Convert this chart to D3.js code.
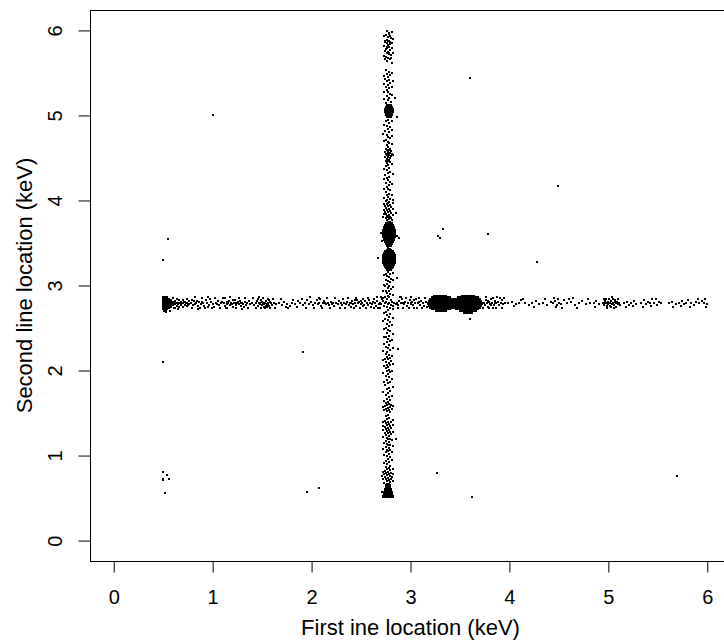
<!DOCTYPE html>
<html><head><meta charset="utf-8">
<script src="https://cdn.jsdelivr.net/npm/d3@7"></script>
<style>body{margin:0;background:#fff}text{font-family:"Liberation Sans",Arial,sans-serif;fill:#000}</style>
</head><body>
<script>
const xTicks=[0,1,2,3,4,5,6];
const yTicks=[0,1,2,3,4,5,6];
const xLabel="First ine location (keV)";
const yLabel="Second line location (keV)";

// vertical line (first location ~2.78), sparse parts
const vLine=[
[2.76,5.99],[2.78,5.97],[2.75,5.95],[2.79,5.94],[2.77,5.92],[2.80,5.91],[2.76,5.89],[2.78,5.87],[2.74,5.86],[2.79,5.84],[2.77,5.83],[2.76,5.81],[2.78,5.80],[2.75,5.78],[2.79,5.77],[2.77,5.75],[2.76,5.73],[2.78,5.72],[2.80,5.71],[2.75,5.69],[2.77,5.67],[2.79,5.66],[2.76,5.64],[2.78,5.96],[2.77,5.88],[2.76,5.79],[2.78,5.74],
[2.75,5.53],[2.78,5.51],[2.76,5.49],[2.79,5.47],[2.77,5.45],[2.74,5.43],[2.78,5.42],[2.76,5.40],[2.79,5.38],[2.77,5.36],[2.75,5.34],[2.78,5.32],[2.76,5.30],[2.77,5.27],[2.79,5.25],[2.76,5.23],[2.78,5.21],[2.84,5.20],[2.77,5.18],[2.75,5.15],
[2.77,4.95],[2.75,4.93],[2.78,4.91],[2.76,4.88],[2.79,4.86],[2.77,4.84],[2.74,4.82],[2.78,4.80],[2.76,4.77],[2.77,4.75],[2.79,4.73],[2.75,4.71],[2.77,4.69],[2.78,4.67],[2.76,4.65],[2.86,4.98],
[2.77,4.63],[2.75,4.61],[2.79,4.61],[2.76,4.59],[2.78,4.59],[2.80,4.58],[2.74,4.57],[2.77,4.57],[2.79,4.56],[2.75,4.55],[2.77,4.55],[2.81,4.55],[2.76,4.53],[2.78,4.53],[2.80,4.52],[2.74,4.51],[2.77,4.51],[2.79,4.50],[2.76,4.49],[2.78,4.48],[2.75,4.47],[2.77,4.46],[2.79,4.45],[2.76,4.44],[2.82,4.54],
[2.77,4.42],[2.75,4.40],[2.78,4.38],[2.76,4.36],[2.79,4.34],[2.77,4.32],[2.74,4.30],[2.78,4.28],[2.76,4.26],[2.77,4.24],[2.79,4.22],[2.75,4.20],[2.78,4.18],[2.76,4.16],[2.77,4.14],[2.79,4.12],[2.75,4.10],[2.78,4.08],[2.76,4.06],[2.77,4.04],[2.79,4.02],[2.76,4.00],
[2.75,3.99],[2.78,3.98],[2.76,3.96],[2.79,3.95],[2.74,3.94],[2.77,3.93],[2.80,3.92],[2.75,3.91],[2.78,3.90],[2.76,3.89],[2.79,3.88],[2.74,3.87],[2.77,3.86],[2.80,3.85],[2.75,3.84],[2.78,3.83],[2.76,3.82],[2.79,3.81],[2.77,3.80],[2.75,3.79],[2.78,3.78],[2.76,3.77],[2.80,3.79],[2.77,3.97],[2.85,3.85],
[2.70,3.62],[2.86,3.58],[2.88,3.56],[2.71,3.52],[2.77,3.44],[2.79,3.43],
[2.77,3.16],[2.75,3.14],[2.79,3.13],[2.76,3.11],[2.78,3.10],[2.80,3.08],[2.75,3.07],[2.77,3.05],[2.79,3.04],[2.76,3.02],[2.78,3.00],[2.74,2.99],[2.77,2.97],[2.80,2.96],[2.75,2.94],[2.78,2.93],[2.76,2.91],[2.79,2.90],[2.77,2.88],[2.74,2.87],[2.78,2.86],[2.76,2.84],[2.80,2.83],[2.86,3.09],[2.67,3.32],
[2.72,2.82],[2.75,2.81],[2.78,2.80],[2.81,2.81],[2.74,2.79],[2.77,2.78],[2.80,2.77],[2.83,2.79],[2.73,2.76],[2.76,2.75],[2.79,2.74],[2.82,2.76],[2.70,2.78],[2.85,2.78],
[2.77,2.71],[2.75,2.69],[2.79,2.67],[2.76,2.65],[2.78,2.63],[2.74,2.61],[2.77,2.59],[2.79,2.57],[2.76,2.55],[2.78,2.52],[2.75,2.50],[2.77,2.48],[2.79,2.46],[2.76,2.44],[2.78,2.41],[2.75,2.39],[2.77,2.37],[2.79,2.35],[2.76,2.33],[2.78,2.30],[2.75,2.28],[2.77,2.26],[2.79,2.24],[2.76,2.22],[2.87,2.25],
[2.75,2.19],[2.78,2.18],[2.76,2.16],[2.79,2.15],[2.74,2.14],[2.77,2.13],[2.80,2.11],[2.75,2.10],[2.78,2.09],[2.76,2.07],[2.79,2.06],[2.77,2.04],[2.75,2.03],[2.78,2.01],[2.76,1.99],[2.79,1.98],[2.77,1.96],
[2.75,1.94],[2.78,1.92],[2.76,1.89],[2.79,1.87],[2.77,1.85],[2.74,1.83],[2.78,1.80],[2.76,1.78],[2.79,1.76],[2.77,1.73],[2.75,1.71],[2.78,1.69],[2.76,1.67],[2.79,1.65],[2.77,1.63],
[2.75,1.62],[2.78,1.61],[2.80,1.60],[2.76,1.59],[2.74,1.58],[2.79,1.57],[2.77,1.56],[2.75,1.55],[2.78,1.54],[2.81,1.55],[2.76,1.52],[2.79,1.51],[2.72,1.57],
[2.77,1.48],[2.75,1.46],[2.78,1.44],[2.76,1.43],
[2.74,1.41],[2.77,1.40],[2.80,1.40],[2.75,1.38],[2.78,1.37],[2.76,1.36],[2.79,1.35],[2.74,1.34],[2.77,1.33],[2.80,1.32],[2.75,1.31],[2.78,1.30],[2.76,1.29],[2.79,1.28],[2.74,1.27],[2.77,1.26],[2.80,1.25],[2.75,1.24],[2.78,1.23],[2.76,1.21],[2.79,1.20],[2.77,1.19],[2.75,1.17],[2.78,1.16],[2.76,1.14],[2.79,1.13],[2.77,1.12],[2.75,1.10],[2.78,1.09],[2.76,1.07],[2.79,1.06],[2.77,1.05],[2.75,1.04],[2.85,1.19],[2.72,1.35],
[2.78,1.02],[2.76,1.00],[2.79,0.98],[2.77,0.96],[2.75,0.94],[2.78,0.92],[2.76,0.90],[2.79,0.88],
[2.75,0.86],[2.78,0.85],[2.76,0.84],[2.79,0.83],[2.74,0.82],[2.77,0.81],[2.80,0.80],[2.75,0.79],[2.78,0.78],[2.76,0.77],[2.79,0.76],[2.74,0.75],[2.77,0.74],[2.80,0.73],[2.75,0.72],[2.78,0.71],[2.76,0.70],[2.79,0.69],[2.81,0.75],[2.73,0.78],[2.71,0.76],[2.71,0.57]
];

// wider scatter along the vertical line
const vLineEdge=[
[2.81,5.98],[2.73,5.93],[2.82,5.90],[2.74,5.88],[2.81,5.85],[2.79,5.86],[2.76,5.85],[2.73,5.82],[2.81,5.79],[2.74,5.76],[2.82,5.74],[2.73,5.70],[2.80,5.68],[2.74,5.66],[2.81,5.62],
[2.81,5.50],[2.73,5.46],[2.82,5.41],[2.73,5.37],[2.81,5.33],[2.73,5.28],[2.81,5.24],[2.73,5.19],[2.80,5.16],
[2.81,4.94],[2.73,4.89],[2.81,4.83],[2.72,4.78],[2.81,4.76],[2.73,4.70],[2.81,4.66],
[2.81,4.43],[2.73,4.37],[2.82,4.31],[2.73,4.25],[2.81,4.19],[2.73,4.13],[2.81,4.07],[2.73,4.03],[2.82,4.01],
[2.82,3.97],[2.73,3.96],[2.82,3.90],[2.73,3.89],[2.82,3.83],[2.72,3.81],[2.81,3.77],[2.73,3.84],
[2.82,3.15],[2.73,3.12],[2.82,3.06],[2.73,3.01],[2.82,2.98],[2.72,2.93],[2.82,2.89],[2.72,2.85],
[2.82,2.72],[2.73,2.68],[2.82,2.62],[2.72,2.58],[2.81,2.54],[2.73,2.49],[2.82,2.43],[2.73,2.40],[2.81,2.36],[2.73,2.31],[2.82,2.27],[2.72,2.23],
[2.81,2.17],[2.72,2.12],[2.82,2.08],[2.73,2.05],[2.81,2.00],[2.72,1.97],
[2.81,1.90],[2.73,1.86],[2.82,1.81],[2.72,1.75],[2.81,1.70],[2.73,1.64],
[2.82,1.58],[2.73,1.53],
[2.82,1.42],[2.72,1.39],[2.82,1.36],[2.72,1.30],[2.82,1.28],[2.72,1.22],[2.81,1.18],[2.73,1.15],[2.82,1.11],[2.72,1.08],[2.81,1.04],
[2.73,1.01],[2.81,0.95],[2.73,0.91],
[2.82,0.84],[2.72,0.81],[2.82,0.78],[2.72,0.73],[2.82,0.70],[2.73,0.68]
];

// dense clumps on the vertical line: [second location, [first locations]]
const vBlobRows=[
[5.12,[2.76,2.78,2.80]],[5.10,[2.75,2.77,2.79,2.81]],[5.08,[2.74,2.76,2.78,2.80,2.82]],[5.06,[2.74,2.76,2.78,2.80,2.82]],[5.04,[2.74,2.76,2.78,2.80,2.82]],[5.02,[2.75,2.77,2.79,2.81]],[5.00,[2.75,2.77,2.79,2.81]],[4.98,[2.76,2.78,2.80]],
[3.75,[2.77,2.79]],[3.73,[2.75,2.77,2.79,2.81]],[3.71,[2.74,2.76,2.78,2.80,2.82]],[3.69,[2.73,2.75,2.77,2.79,2.81,2.83]],[3.67,[2.73,2.75,2.77,2.79,2.81,2.83]],
[3.65,[2.72,2.74,2.76,2.78,2.80,2.82,2.84]],[3.63,[2.72,2.74,2.76,2.78,2.80,2.82,2.84]],[3.61,[2.72,2.74,2.76,2.78,2.80,2.82,2.84]],[3.59,[2.72,2.74,2.76,2.78,2.80,2.82,2.84]],[3.57,[2.72,2.74,2.76,2.78,2.80,2.82,2.84]],
[3.55,[2.73,2.75,2.77,2.79,2.81,2.83]],[3.53,[2.73,2.75,2.77,2.79,2.81,2.83]],[3.51,[2.74,2.76,2.78,2.80,2.82]],[3.49,[2.75,2.77,2.79,2.81]],[3.47,[2.76,2.78,2.80]],
[3.42,[2.76,2.78,2.80]],[3.40,[2.74,2.76,2.78,2.80,2.82]],[3.38,[2.73,2.75,2.77,2.79,2.81,2.83]],
[3.36,[2.72,2.74,2.76,2.78,2.80,2.82,2.84]],[3.34,[2.72,2.74,2.76,2.78,2.80,2.82,2.84]],[3.32,[2.72,2.74,2.76,2.78,2.80,2.82,2.84]],[3.30,[2.72,2.74,2.76,2.78,2.80,2.82,2.84]],[3.28,[2.72,2.74,2.76,2.78,2.80,2.82,2.84]],[3.26,[2.72,2.74,2.76,2.78,2.80,2.82,2.84]],
[3.24,[2.73,2.75,2.77,2.79,2.81,2.83]],[3.22,[2.74,2.76,2.78,2.80,2.82]],[3.20,[2.75,2.77,2.79,2.81]],[3.18,[2.76,2.78,2.80]],
[0.67,[2.76,2.78]],[0.65,[2.75,2.77,2.79]],[0.63,[2.75,2.77,2.79]],[0.61,[2.74,2.76,2.78,2.80]],[0.59,[2.74,2.76,2.78,2.80]],
[0.57,[2.73,2.75,2.77,2.79,2.81]],[0.55,[2.73,2.75,2.77,2.79,2.81]],[0.53,[2.72,2.74,2.76,2.78,2.80,2.82]],[0.51,[2.72,2.74,2.76,2.78,2.80,2.82]]
];

// horizontal line (second location ~2.79), sparse parts
const hLine=[
[0.58,2.75],[0.58,2.79],[0.58,2.83],[0.60,2.77],[0.60,2.81],[0.60,2.85],[0.62,2.74],[0.62,2.78],[0.62,2.82],[0.64,2.76],[0.64,2.80],[0.64,2.84],[0.66,2.75],[0.66,2.79],[0.66,2.83],[0.68,2.77],[0.68,2.81],[0.70,2.75],[0.70,2.79],[0.70,2.83],[0.72,2.77],[0.72,2.81],[0.74,2.76],[0.74,2.80],[0.74,2.84],[0.76,2.78],[0.76,2.82],[0.59,2.81],[0.61,2.79],[0.63,2.80],[0.65,2.78],[0.67,2.79],[0.69,2.79],[0.71,2.81],[0.73,2.79],[0.75,2.77],[0.57,2.70],[0.61,2.73],[0.65,2.72],[0.53,2.69],
[0.78,2.80],[0.80,2.77],[0.81,2.82],[0.83,2.79],[0.85,2.76],[0.86,2.81],[0.88,2.78],[0.90,2.80],[0.91,2.76],[0.93,2.83],[0.94,2.79],[0.96,2.77],[0.98,2.81],[1.00,2.78],[1.01,2.75],[1.03,2.80],[1.05,2.82],[1.06,2.77],[1.08,2.79],[1.09,2.81],[0.87,2.74],[0.97,2.84],[1.04,2.78],[0.79,2.83],[0.84,2.82],
[1.11,2.79],[1.12,2.76],[1.14,2.81],[1.15,2.78],[1.17,2.82],[1.18,2.77],[1.19,2.80],[1.21,2.75],[1.22,2.79],[1.23,2.83],[1.24,2.77],[1.25,2.80],[1.27,2.78],[1.28,2.82],[1.29,2.76],[1.30,2.80],[1.31,2.78],[1.33,2.81],[1.34,2.77],[1.35,2.79],[1.37,2.82],[1.38,2.78],[1.20,2.78],[1.26,2.81],[1.32,2.75],[1.16,2.79],[1.13,2.73],
[1.40,2.80],[1.42,2.77],[1.44,2.79],[1.45,2.82],[1.46,2.76],[1.47,2.80],[1.48,2.78],[1.49,2.83],[1.50,2.77],[1.51,2.80],[1.52,2.75],[1.53,2.79],[1.54,2.82],[1.55,2.78],[1.56,2.80],[1.57,2.76],[1.58,2.81],[1.59,2.79],[1.60,2.77],[1.62,2.80],[1.64,2.78],[1.46,2.84],[1.53,2.73],[1.57,2.83],[1.50,2.81],[1.55,2.75],
[1.67,2.79],[1.70,2.77],[1.72,2.81],[1.75,2.78],[1.78,2.76],[1.80,2.80],[1.83,2.78],[1.86,2.82],[1.88,2.79],[1.91,2.77],[1.76,2.73],
[1.93,2.80],[1.95,2.83],[1.97,2.78],[1.99,2.81],[2.01,2.77],[2.03,2.80],[2.05,2.83],[2.06,2.78],[2.08,2.80],[2.10,2.76],[2.12,2.79],[2.13,2.82],[2.15,2.78],[2.17,2.80],[2.18,2.77],[2.20,2.81],[2.22,2.79],[2.23,2.76],[2.25,2.80],[2.27,2.78],[2.28,2.82],[2.30,2.79],[2.31,2.77],[2.09,2.84],
[2.33,2.80],[2.35,2.78],[2.36,2.81],[2.38,2.77],[2.39,2.79],[2.41,2.82],[2.42,2.78],[2.44,2.80],[2.45,2.76],[2.47,2.79],[2.48,2.81],[2.50,2.78],[2.51,2.80],[2.53,2.77],[2.54,2.82],[2.56,2.79],[2.57,2.77],[2.59,2.80],[2.40,2.75],[2.46,2.83],[2.52,2.84],[2.58,2.83],
[2.61,2.78],[2.62,2.81],[2.64,2.79],[2.65,2.76],[2.66,2.82],[2.68,2.78],[2.69,2.80],[2.71,2.84],[2.63,2.84],[2.67,2.74],
[2.86,2.80],[2.87,2.77],[2.88,2.82],[2.90,2.79],[2.91,2.84],[2.93,2.78],[2.94,2.81],[2.96,2.76],[2.97,2.80],[2.99,2.83],[3.00,2.78],[3.02,2.81],[3.03,2.77],[3.05,2.80],[3.06,2.84],[3.08,2.79],[3.10,2.77],[3.11,2.82],[3.13,2.80],[3.14,2.76],[3.16,2.81],[2.89,2.86],[3.04,2.74],
[3.74,2.80],[3.75,2.77],[3.76,2.83],[3.77,2.79],[3.78,2.75],[3.79,2.81],[3.80,2.78],[3.81,2.84],[3.82,2.80],[3.84,2.77],[3.85,2.82],[3.86,2.79],[3.88,2.81],[3.89,2.77],[3.91,2.80],[3.92,2.83],[3.94,2.78],[3.96,2.80],[3.83,2.74],[3.87,2.86],
[3.99,2.79],[4.03,2.81],[4.07,2.78],[4.10,2.80],[4.12,2.83],[4.16,2.79],[4.20,2.77],[4.23,2.80],[4.27,2.82],[4.30,2.78],[4.34,2.80],[4.38,2.77],[4.42,2.81],[4.44,2.79],[4.46,2.82],[4.48,2.77],[4.50,2.80],[4.52,2.78],[4.55,2.83],[4.58,2.79],[4.62,2.81],[4.66,2.77],[4.70,2.80],[4.73,2.82],[4.77,2.78],[4.81,2.80],[4.85,2.79],[4.88,2.82],[4.91,2.78],[4.47,2.75],[4.64,2.85],
[4.95,2.80],[4.96,2.77],[4.97,2.82],[4.98,2.79],[4.99,2.76],[5.00,2.81],[5.00,2.78],[5.01,2.84],[5.02,2.80],[5.02,2.76],[5.03,2.82],[5.04,2.78],[5.05,2.80],[5.06,2.77],[5.07,2.83],[5.08,2.79],[5.09,2.81],[5.10,2.78],[5.11,2.80],[5.04,2.86],[4.98,2.84],[5.06,2.74],
[5.16,2.79],[5.19,2.81],[5.21,2.77],[5.23,2.80],[5.26,2.82],[5.28,2.78],
[5.33,2.80],[5.36,2.83],[5.38,2.78],[5.40,2.81],[5.42,2.79],[5.44,2.84],[5.46,2.80],[5.49,2.77],[5.51,2.81],[5.53,2.79],
[5.61,2.79],[5.64,2.81],[5.68,2.78],[5.71,2.80],[5.74,2.82],[5.76,2.78],[5.79,2.80],[5.81,2.83],[5.84,2.79],[5.87,2.77],[5.89,2.81],[5.92,2.79],[5.95,2.82],[5.97,2.80],[6.00,2.78],[5.98,2.84]
];

// wider scatter along the horizontal line
const hLineEdge=[
[0.79,2.74],[0.82,2.86],[0.85,2.72],[0.89,2.85],[0.92,2.73],[0.95,2.86],[0.99,2.74],[1.02,2.85],[1.07,2.73],[1.10,2.85],[0.82,2.78],[0.89,2.81],[0.95,2.75],
[1.12,2.85],[1.15,2.73],[1.18,2.86],[1.21,2.83],[1.24,2.73],[1.27,2.85],[1.30,2.72],[1.33,2.85],[1.36,2.74],[1.23,2.80],[1.29,2.79],
[1.41,2.85],[1.44,2.73],[1.47,2.86],[1.49,2.74],[1.51,2.85],[1.54,2.76],[1.56,2.84],[1.58,2.74],[1.61,2.84],[1.63,2.74],[1.48,2.80],[1.52,2.78],[1.56,2.77],
[1.69,2.84],[1.74,2.75],[1.81,2.83],[1.85,2.75],[1.90,2.84],
[1.94,2.74],[1.98,2.86],[2.02,2.73],[2.07,2.85],[2.11,2.73],[2.16,2.85],[2.19,2.74],[2.24,2.85],[2.29,2.74],[2.32,2.84],[2.14,2.80],[2.21,2.78],
[2.34,2.74],[2.37,2.85],[2.40,2.80],[2.43,2.74],[2.45,2.85],[2.49,2.74],[2.52,2.76],[2.55,2.74],[2.57,2.85],[2.60,2.75],[2.44,2.83],[2.50,2.82],
[2.63,2.73],[2.66,2.86],[2.69,2.74],[2.70,2.87],
[2.87,2.74],[2.90,2.86],[2.92,2.73],[2.95,2.85],[2.98,2.74],[3.01,2.86],[3.04,2.83],[3.07,2.73],[3.09,2.85],[3.12,2.74],[3.15,2.85],[3.17,2.75],[2.92,2.80],[3.01,2.79],[3.09,2.81],
[3.73,2.73],[3.76,2.86],[3.79,2.73],[3.81,2.77],[3.83,2.85],[3.86,2.74],[3.90,2.85],[3.93,2.74],[3.95,2.85],[3.78,2.82],[3.85,2.80],
[4.05,2.76],[4.14,2.84],[4.25,2.75],[4.36,2.84],[4.45,2.85],[4.49,2.84],[4.53,2.74],[4.60,2.84],[4.68,2.74],[4.79,2.84],[4.87,2.75],
[4.96,2.84],[4.99,2.73],[5.01,2.79],[5.03,2.75],[5.05,2.84],[5.08,2.75],[5.10,2.84],[5.12,2.77],[4.97,2.79],[5.07,2.81],
[5.18,2.75],[5.25,2.76],[5.35,2.75],[5.43,2.76],[5.48,2.84],[5.65,2.75],[5.73,2.76],[5.83,2.75],[5.91,2.84],[5.99,2.75]
];

// dense clumps on the horizontal line: [second location, [first locations]]
const hBlobRows=[
[2.86,[0.50,0.52,0.54]],[2.84,[0.50,0.52,0.54,0.56]],[2.82,[0.50,0.52,0.54,0.56,0.58]],[2.80,[0.50,0.52,0.54,0.56,0.58,0.60]],[2.78,[0.50,0.52,0.54,0.56,0.58,0.60]],[2.76,[0.50,0.52,0.54,0.56,0.58]],[2.74,[0.50,0.52,0.54,0.56]],[2.72,[0.50,0.52,0.54]],[2.70,[0.51,0.53]],
[2.88,[3.24,3.26,3.28,3.30,3.32,3.34,3.36,3.52,3.54,3.56,3.58,3.60,3.62,3.64]],
[2.86,[3.22,3.24,3.26,3.28,3.30,3.32,3.34,3.36,3.38,3.40,3.48,3.50,3.52,3.54,3.56,3.58,3.60,3.62,3.64,3.66,3.68]],
[2.84,[3.20,3.22,3.24,3.26,3.28,3.30,3.32,3.34,3.36,3.38,3.40,3.42,3.44,3.46,3.48,3.50,3.52,3.54,3.56,3.58,3.60,3.62,3.64,3.66,3.68,3.70]],
[2.82,[3.19,3.21,3.23,3.25,3.27,3.29,3.31,3.33,3.35,3.37,3.39,3.41,3.43,3.45,3.47,3.49,3.51,3.53,3.55,3.57,3.59,3.61,3.63,3.65,3.67,3.69,3.71]],
[2.80,[3.18,3.20,3.22,3.24,3.26,3.28,3.30,3.32,3.34,3.36,3.38,3.40,3.42,3.44,3.46,3.48,3.50,3.52,3.54,3.56,3.58,3.60,3.62,3.64,3.66,3.68,3.70,3.72]],
[2.78,[3.18,3.20,3.22,3.24,3.26,3.28,3.30,3.32,3.34,3.36,3.38,3.40,3.42,3.44,3.46,3.48,3.50,3.52,3.54,3.56,3.58,3.60,3.62,3.64,3.66,3.68,3.70,3.72]],
[2.76,[3.19,3.21,3.23,3.25,3.27,3.29,3.31,3.33,3.35,3.37,3.39,3.41,3.43,3.45,3.47,3.49,3.51,3.53,3.55,3.57,3.59,3.61,3.63,3.65,3.67,3.69,3.71]],
[2.74,[3.20,3.22,3.24,3.26,3.28,3.30,3.32,3.34,3.36,3.38,3.40,3.42,3.44,3.46,3.48,3.50,3.52,3.54,3.56,3.58,3.60,3.62,3.64,3.66,3.68,3.70]],
[2.72,[3.22,3.24,3.26,3.28,3.30,3.32,3.34,3.36,3.38,3.40,3.46,3.48,3.50,3.52,3.54,3.56,3.58,3.60,3.62,3.64,3.66,3.68]],
[2.70,[3.26,3.28,3.30,3.32,3.34,3.36,3.50,3.52,3.54,3.56,3.58,3.60,3.62,3.64,3.66]],
[2.68,[3.54,3.56,3.58,3.60,3.62]]
];

// isolated points
const outliers=[
[0.55,3.55],[0.50,3.30],[0.50,2.10],[0.50,0.81],[0.54,0.77],[0.50,0.73],[0.50,0.71],[0.56,0.72],[0.52,0.56],
[1.00,5.00],[1.91,2.22],[1.95,0.57],[2.08,0.62],[3.60,5.44],[4.49,4.17],[3.28,3.58],[3.30,3.56],[3.33,3.67],
[3.78,3.60],[4.28,3.28],[3.27,0.80],[3.62,0.51],[5.69,0.76],[3.60,2.61]
];

const rowsToPoints=rows=>rows.flatMap(([yv,xs])=>xs.map(xv=>[xv,yv]));
const points=[].concat(vLine,vLineEdge,rowsToPoints(vBlobRows),hLine,hLineEdge,rowsToPoints(hBlobRows),outliers);

const W=724,H=642;
const mLeft=90,mRight=731,mTop=10,mBottom=561;
const x=d3.scaleLinear().domain([-0.24,6.24]).range([mLeft,mRight]);
const y=d3.scaleLinear().domain([-0.24,6.24]).range([mBottom,mTop]);

const svg=d3.select("body").append("svg").attr("width",W).attr("height",H);
svg.append("rect").attr("width",W).attr("height",H).attr("fill","#fff");

svg.append("g").attr("shape-rendering","crispEdges").selectAll("rect").data(points).join("rect")
  .attr("x",d=>x(d[0])-1).attr("y",d=>y(d[1])-1).attr("width",2).attr("height",2).attr("fill","#000");

// plot box
svg.append("rect").attr("x",mLeft+0.5).attr("y",mTop+0.5).attr("width",mRight-mLeft).attr("height",mBottom-mTop)
  .attr("fill","none").attr("stroke","#000").attr("stroke-width",1);

const fs=20, fsTitle=22;
const ff='"Liberation Sans",Arial,sans-serif';
// x axis
const gx=svg.append("g").attr("transform",`translate(0,${mBottom})`)
  .call(d3.axisBottom(x).tickValues(xTicks).tickSize(11.5).tickSizeOuter(0).tickFormat(d3.format("d")));
gx.select(".domain").remove();
gx.append("line").attr("x1",x(xTicks[0])).attr("x2",x(xTicks[xTicks.length-1])).attr("y1",0.5).attr("y2",0.5).attr("stroke","#000");
gx.selectAll(".tick line").attr("stroke","#000");
gx.selectAll(".tick text").attr("y",43).attr("dy",0).attr("font-size",fs).attr("font-family",ff).attr("fill","#000");

// y axis
const gy=svg.append("g").attr("transform",`translate(${mLeft},0)`)
  .call(d3.axisLeft(y).tickValues(yTicks).tickSize(11.5).tickSizeOuter(0).tickFormat(d3.format("d")));
gy.select(".domain").remove();
gy.append("line").attr("y1",y(yTicks[0])).attr("y2",y(yTicks[yTicks.length-1])).attr("x1",0.5).attr("x2",0.5).attr("stroke","#000");
gy.selectAll(".tick line").attr("stroke","#000");
gy.selectAll(".tick text").attr("x",0).attr("y",0).attr("dy",0).attr("text-anchor","middle")
  .attr("transform","translate(-28,0) rotate(-90)")
  .attr("font-size",fs).attr("font-family",ff).attr("fill","#000");

// axis titles
svg.append("text").attr("x",(mLeft+mRight)/2).attr("y",635).attr("text-anchor","middle").attr("font-size",fsTitle).attr("font-family",ff).text(xLabel);
svg.append("text").attr("transform",`translate(31.5,${(mTop+mBottom)/2}) rotate(-90)`).attr("text-anchor","middle").attr("font-size",fsTitle).attr("font-family",ff).text(yLabel);
</script>
</body></html>
